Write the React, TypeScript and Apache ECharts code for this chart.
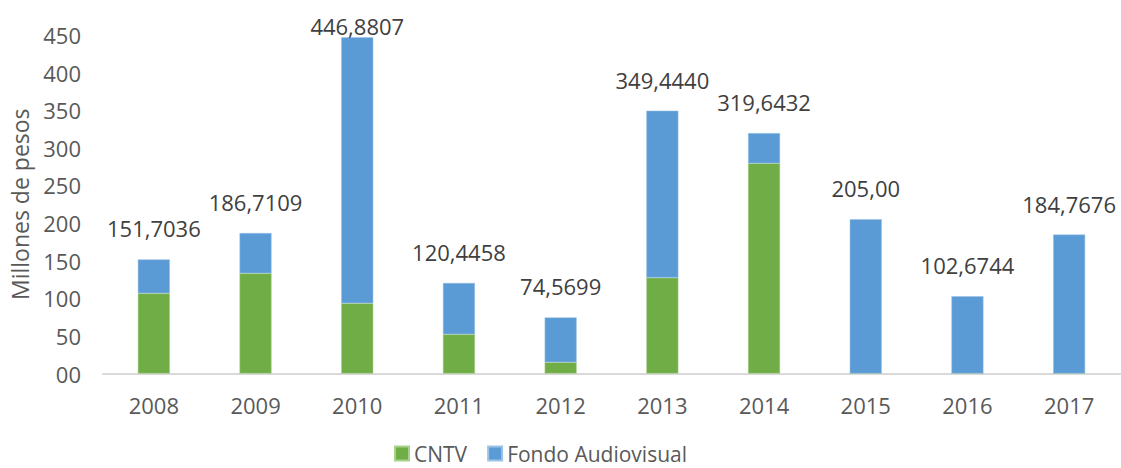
import React, { useEffect, useRef } from "react";
import * as echarts from "echarts";

const years = ["2008", "2009", "2010", "2011", "2012", "2013", "2014", "2015", "2016", "2017"];
const cntv = [106.6, 133.2, 93.3, 52.1, 14.9, 127.4, 279.4, 0, 0, 0];
const fondo = [45.1, 53.5, 353.6, 68.3, 59.7, 222.0, 40.2, 205.0, 102.6744, 184.7676];
const totalLabels = ["151,7036", "186,7109", "446,8807", "120,4458", "74,5699", "349,4440", "319,6432", "205,00", "102,6744", "184,7676"];
const yTicks = { min: 0, max: 450, interval: 50 };

const FONT = "'Open Sans', 'Noto Sans', sans-serif";

export default function App() {
  const ref = useRef<HTMLDivElement>(null);
  useEffect(() => {
    if (!ref.current) return;
    const chart = echarts.init(ref.current, null, { renderer: "svg" });
    chart.setOption({
      animation: false,
      textStyle: { fontFamily: FONT },
      grid: { left: 103, right: 1, top: 35, bottom: 94.5, containLabel: false },
      legend: {
        left: 394,
        top: 443,
        padding: 0,
        itemWidth: 14,
        itemHeight: 14,
        itemGap: 20,
        icon: "rect",
        textStyle: { color: "#595959", fontSize: 21, lineHeight: 21, fontFamily: FONT, padding: [0, 0, 0, 0] },
        data: ["CNTV", "Fondo Audiovisual"],
      },
      xAxis: {
        type: "category",
        data: years,
        axisLine: { lineStyle: { color: "#D9D9D9", width: 2 } },
        axisTick: { show: false },
        axisLabel: { color: "#595959", fontSize: 22, margin: 20, fontFamily: FONT },
      },
      yAxis: {
        type: "value",
        min: yTicks.min,
        max: yTicks.max,
        interval: yTicks.interval,
        splitLine: { show: false },
        axisLine: { show: false },
        axisTick: { show: false },
        axisLabel: {
          color: "#595959",
          fontSize: 22,
          margin: 22,
          fontFamily: FONT,
          formatter: (v: number) => (v === 0 ? "00" : String(v)),
        },
        name: "Millones de pesos",
        nameLocation: "middle",
        nameGap: 72,
        nameTextStyle: { color: "#595959", fontSize: 23, fontFamily: FONT },
      },
      series: [
        {
          name: "CNTV",
          type: "bar",
          stack: "total",
          barWidth: 32,
          itemStyle: { color: "#70AD47", borderColor: "#A9D18E", borderWidth: 0.5 },
          data: cntv,
        },
        {
          name: "Fondo Audiovisual",
          type: "bar",
          stack: "total",
          barWidth: 32,
          itemStyle: { color: "#5B9BD5", borderColor: "#9DC3E6", borderWidth: 0.5 },
          data: fondo.map((v, i) =>
            i === 2 ? { value: v, label: { distance: 0 } } : v
          ),
          label: {
            show: true,
            position: "top",
            distance: 20,
            color: "#404040",
            fontSize: 22,
            fontFamily: FONT,
            formatter: (p: any) => totalLabels[p.dataIndex],
          },
        },
      ],
    });
    return () => chart.dispose();
  }, []);
  return (
    <div
      ref={ref}
      style={{ position: "fixed", left: 0, top: 0, width: 1121, height: 468, background: "#fff" }}
    />
  );
}
